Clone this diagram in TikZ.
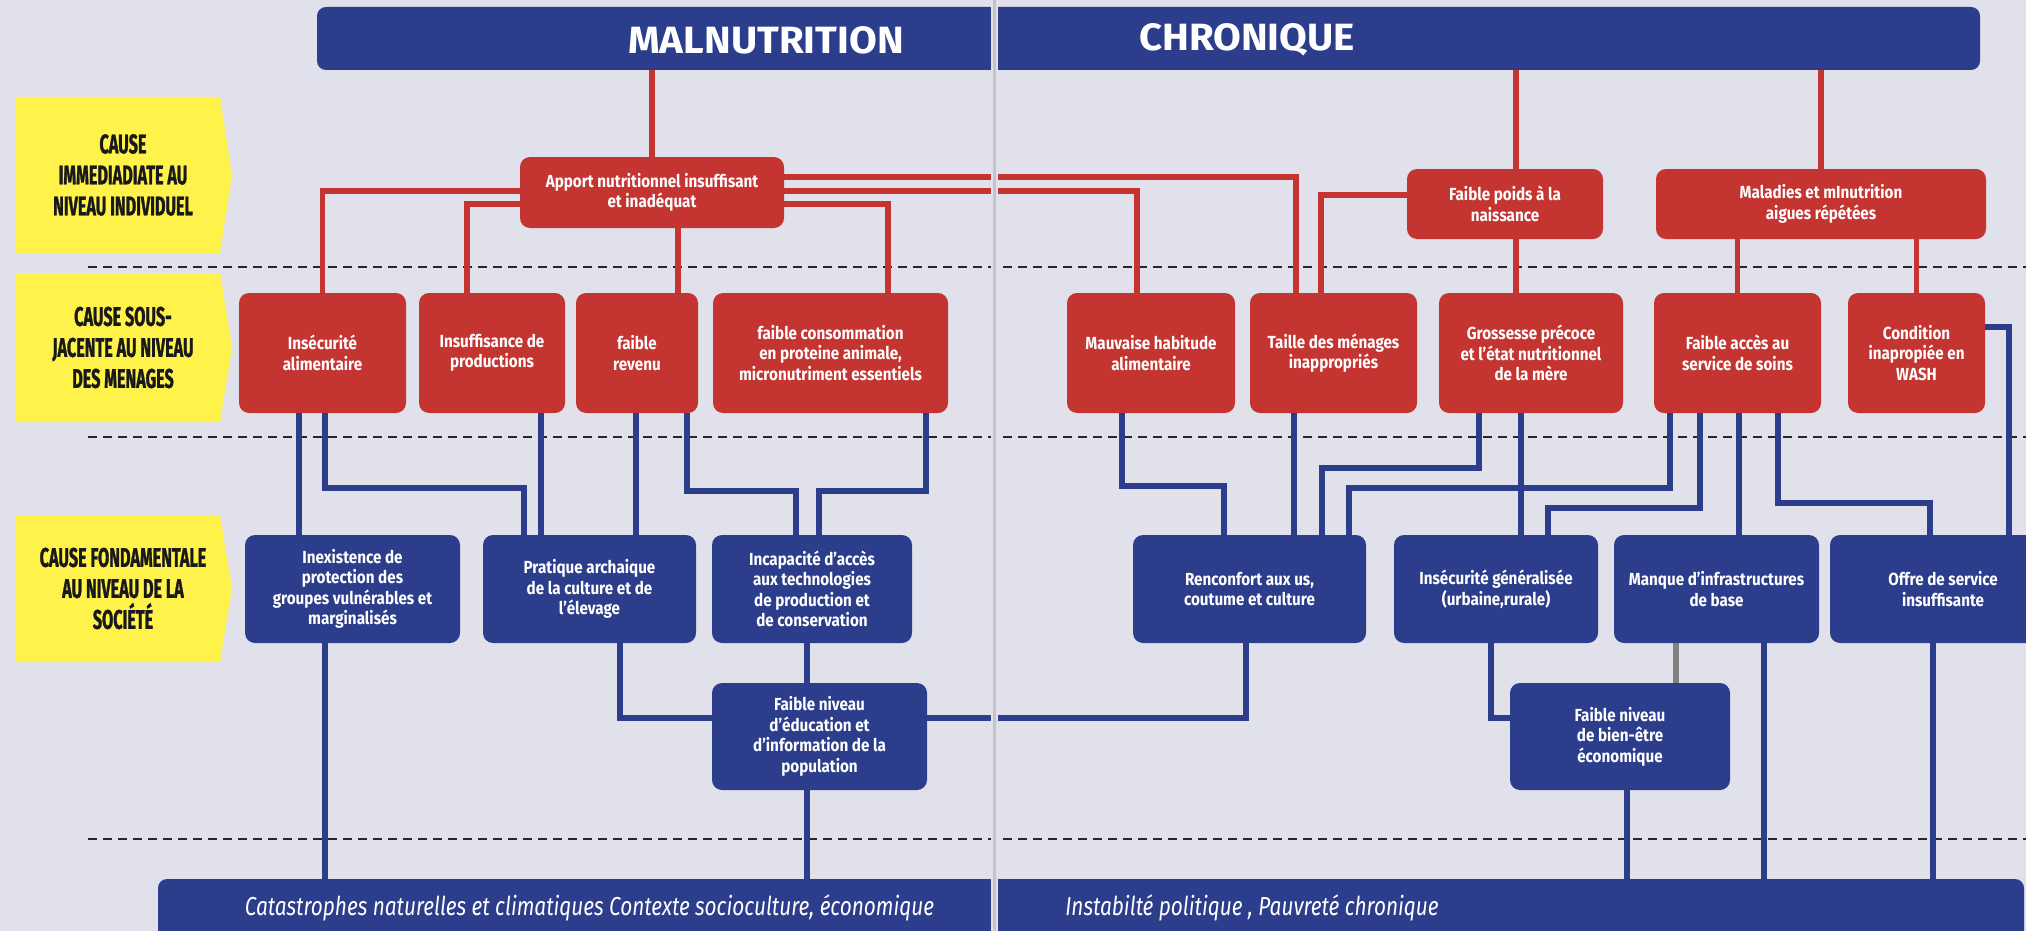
\documentclass[tikz,border=0pt]{standalone}
\usepackage{fontspec}
\setmainfont{Fira Sans}
\newfontfamily\boxfont[FakeStretch=0.87]{Fira Sans}
\newfontfamily\lvlfont[FakeStretch=0.6, FakeBold=1]{Fira Sans}
\newfontfamily\basefont[FakeStretch=0.8]{Fira Sans}
\newfontfamily\titlefont[FakeStretch=1.06]{Fira Sans}
\definecolor{bgpage}{HTML}{E1E1EC}
\definecolor{causered}{HTML}{C43431}
\definecolor{causeblue}{HTML}{2B3D8B}
\definecolor{lvlyellow}{HTML}{FFF24A}
\definecolor{guttergray}{HTML}{C4C4C8}

\begin{document}
\begin{tikzpicture}[
  x=1pt, y=-1pt,
  redbox/.style={fill=causered, rounded corners=10pt, text=white, align=center, inner sep=0pt,
    font=\boxfont\bfseries\fontsize{17.5}{20.5}\selectfont},
  bluebox/.style={redbox, fill=causeblue},
  bar/.style={fill=causeblue, rounded corners=9pt, inner sep=0pt},
  redline/.style={draw=causered, line width=5.5pt},
  blueline/.style={draw=causeblue, line width=5.5pt},
  sepline/.style={draw=black!85, line width=1.4pt, dash pattern=on 9pt off 6pt},
  lvllabel/.style={align=center, text=black!90, font=\lvlfont\bfseries\fontsize{27}{31}\selectfont},
  titletext/.style={text=white, font=\titlefont\bfseries\fontsize{38}{40}\selectfont},
  basetext/.style={text=white, font=\basefont\itshape\fontsize{26}{30}\selectfont}]
\useasboundingbox (0,0) rectangle (2026,931);
\clip (0,0) rectangle (2026,931);
\fill[bgpage] (0,0) rectangle (2026,931);
% level separators
\foreach \y in {267,437,839}{
  \draw[sepline] (88,\y) -- (2026,\y);
}
% level labels
\foreach \ya/\yb/\txt [count=\i] in {97/253/{CAUSE\\IMMEDIADIATE AU\\NIVEAU INDIVIDUEL},
    273/422/{CAUSE SOUS-\\JACENTE AU NIVEAU\\DES MENAGES},
    515/662/{CAUSE FONDAMENTALE\\AU NIVEAU DE LA\\SOCIÉTÉ}}{
  \fill[lvlyellow] (16,\ya) -- (220,\ya) -- (232,{(\ya+\yb)/2}) -- (220,\yb) -- (16,\yb) -- cycle;
  \node[lvllabel] (lvl\i) at (123,{(\ya+\yb)/2}) {\txt};
}
% title and base bars
\node[bar, minimum width=1663pt, minimum height=63pt] (top) at (1148.5,38.5) {};
\node[titletext] (maltitle) at (766,40) {MALNUTRITION};
\node[titletext] (chrtitle) at (1247,40) {CHRONIQUE};
\node[bar, minimum width=1866pt, minimum height=71pt] (base) at (1091,914.5) {};
\node[basetext] (baseleft) at (589.5,908) {Catastrophes naturelles et climatiques Contexte socioculture, économique};
\node[basetext] (baseright) at (1252,908) {Instabilté politique , Pauvreté chronique};

% immediate causes
\node[redbox, minimum width=264pt, minimum height=71pt] (apport) at (652,192.5) {Apport nutritionnel insuffisant\\et inadéquat};
\node[redbox, minimum width=196pt, minimum height=70pt] (poids) at (1505,204) {Faible poids à la\\naissance};
\node[redbox, minimum width=330pt, minimum height=70pt] (maladies) at (1821,204) {Maladies et mInutrition\\aigues répétées};

% underlying causes
\node[redbox, minimum width=167pt, minimum height=120pt] (insec) at (322.5,353) {Insécurité\\alimentaire};
\node[redbox, minimum width=146pt, minimum height=120pt] (insuff) at (492,353) {Insuffisance de\\productions};
\node[redbox, minimum width=122pt, minimum height=120pt] (revenu) at (637,353) {faible\\revenu};
\node[redbox, minimum width=235pt, minimum height=120pt] (conso) at (830.5,353) {faible consommation\\en proteine animale,\\micronutriment essentiels};
\node[redbox, minimum width=168pt, minimum height=120pt] (habitude) at (1151,353) {Mauvaise habitude\\alimentaire};
\node[redbox, minimum width=167pt, minimum height=120pt] (taille) at (1333.5,353) {Taille des ménages\\inappropriés};
\node[redbox, minimum width=184pt, minimum height=120pt] (grossesse) at (1531,353) {Grossesse précoce\\et l’état nutritionnel\\de la mère};
\node[redbox, minimum width=167pt, minimum height=120pt] (soins) at (1737.5,353) {Faible accès au\\service de soins};
\node[redbox, minimum width=137pt, minimum height=120pt] (wash) at (1916.5,353) {Condition\\inapropiée en\\WASH};

% basic causes
\node[bluebox, minimum width=215pt, minimum height=108pt] (inexist) at (352.5,589) {Inexistence de\\protection des\\groupes vulnérables et\\marginalisés};
\node[bluebox, minimum width=213pt, minimum height=108pt] (pratique) at (589.5,589) {Pratique archaique\\de la culture et de\\l’élevage};
\node[bluebox, minimum width=200pt, minimum height=108pt] (incapac) at (812,589) {Incapacité d’accès\\aux technologies\\de production et\\de conservation};
\node[bluebox, minimum width=233pt, minimum height=108pt] (renconf) at (1249.5,589) {Renconfort aux us,\\coutume et culture};
\node[bluebox, minimum width=204pt, minimum height=108pt] (insecgen) at (1496,589) {Insécurité généralisée\\(urbaine,rurale)};
\node[bluebox, minimum width=205pt, minimum height=108pt] (infra) at (1716.5,589) {Manque d’infrastructures\\de base};
\node[bluebox, minimum width=226pt, minimum height=108pt] (offre) at (1943,589) {Offre de service\\insuffisante};
\node[bluebox, minimum width=215pt, minimum height=107pt] (educ) at (819.5,736.5) {Faible niveau\\d’éducation et\\d’information de la\\population};
\node[bluebox, minimum width=220pt, minimum height=107pt] (bienetre) at (1620,736.5) {Faible niveau\\de bien-être\\économique};

% red links
\draw[redline] (apport.north |- top.south) -- (apport.north);
\draw[redline] (top.south -| 1516,0) -- (poids.north -| 1516,0);
\draw[redline] (maladies.north |- top.south) -- (maladies.north);
\draw[redline] (apport.west |- 0,191) -| (insec.north);
\draw[redline] (apport.west |- 0,204) -| (insuff.north -| 467,0);
\draw[redline] (apport.south -| 678,0) -- (revenu.north -| 678,0);
\draw[redline] (apport.east |- 0,204) -| (conso.north -| 888,0);
\draw[redline] (apport.east |- 0,191) -| (habitude.north -| 1137,0);
\draw[redline] (apport.east |- 0,177) -| (taille.north -| 1296,0);
\draw[redline] (poids.west |- 0,195) -| (taille.north -| 1321,0);
\draw[redline] (poids.south -| 1516,0) -- (grossesse.north -| 1516,0);
\draw[redline] (maladies.south -| soins.north) -- (soins.north);
\draw[redline] (maladies.south -| wash.north) -- (wash.north);

% blue links
\draw[blueline] (insec.south -| 299,0) -- (inexist.north -| 299,0);
\draw[blueline] (insec.south -| 325,0) |- (524,488) -- (pratique.north -| 524,0);
\draw[blueline] (insuff.south -| 541,0) -- (pratique.north -| 541,0);
\draw[blueline] (revenu.south -| 636,0) -- (pratique.north -| 636,0);
\draw[blueline] (revenu.south -| 687,0) |- (796,491) -- (incapac.north -| 796,0);
\draw[blueline] (conso.south -| 926,0) |- (819,491) -- (incapac.north -| 819,0);
\draw[blueline] (inexist.south -| 325,0) -- (base.north -| 325,0);
\draw[blueline] (pratique.south -| 620,0) |- (educ.west |- 0,718);
\draw[blueline] (incapac.south -| 807,0) -- (educ.north -| 807,0);
\draw[blueline] (educ.east |- 0,718) -| (renconf.south -| 1246,0);
\draw[blueline] (educ.south -| 807,0) -- (base.north -| 807,0);
\draw[blueline] (habitude.south -| 1122,0) |- (1224,486) -- (renconf.north -| 1224,0);
\draw[blueline] (taille.south -| 1294,0) -- (renconf.north -| 1294,0);
\draw[blueline] (grossesse.south -| 1479,0) |- (1322,468) -- (renconf.north -| 1322,0);
\draw[blueline] (grossesse.south -| 1521,0) -- (insecgen.north -| 1521,0);
\draw[blueline] (soins.south -| 1670,0) |- (1349,488) -- (renconf.north -| 1349,0);
\draw[blueline] (soins.south -| 1700,0) |- (1548,508) -- (insecgen.north -| 1548,0);
\draw[blueline] (soins.south -| 1739,0) -- (infra.north -| 1739,0);
\draw[blueline] (soins.south -| 1778,0) |- (1930,503) -- (offre.north -| 1930,0);
\draw[blueline] (wash.east |- 0,327) -| (offre.north -| 2009,0);
\draw[blueline] (insecgen.south -| 1491,0) |- (bienetre.west |- 0,718);
\draw[draw=gray, line width=5.5pt] (infra.south -| 1676,0) -- (bienetre.north -| 1676,0);
\draw[blueline] (infra.south -| 1764,0) -- (base.north -| 1764,0);
\draw[blueline] (offre.south -| 1933,0) -- (base.north -| 1933,0);
\draw[blueline] (bienetre.south -| 1627,0) -- (base.north -| 1627,0);

% page gutter
\fill[bgpage] (990.5,0) rectangle (998,931);
\draw[guttergray, line width=3pt] (994.5,0) -- (994.5,931);
\end{tikzpicture}
\end{document}
